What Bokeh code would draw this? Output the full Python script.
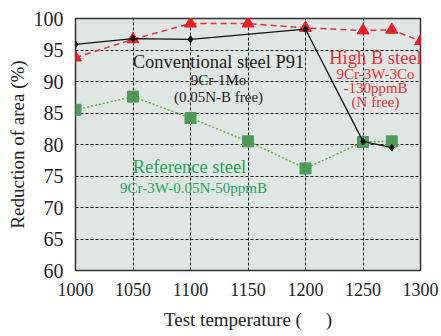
from bokeh.plotting import figure
from bokeh.models import Range1d, FixedTicker, Label
from bokeh.embed import file_html
from bokeh.resources import INLINE

p91_t = [1000, 1050, 1100, 1200, 1250, 1275]
p91_ra = [95.9, 96.8, 96.7, 98.3, 80.5, 79.5]
highb_t = [1000, 1050, 1100, 1150, 1200, 1250, 1275, 1300]
highb_ra = [93.8, 96.7, 99.2, 99.2, 98.5, 98.1, 98.2, 96.4]
ref_t = [1000, 1050, 1100, 1150, 1200, 1250, 1275]
ref_ra = [85.5, 87.6, 84.2, 80.5, 76.2, 80.4, 80.5]
x_ticks = [1000, 1050, 1100, 1150, 1200, 1250, 1300]
y_ticks = [60, 65, 70, 75, 80, 85, 90, 95, 100]

FONT = "Liberation Serif"
p = figure(width=441, height=336, output_backend="svg", toolbar_location=None,
           x_range=Range1d(1000, 1300), y_range=Range1d(60, 100),
           min_border_left=75, min_border_right=21, min_border_top=18, min_border_bottom=66)
p.background_fill_color = "#e0e6e3"
p.border_fill_color = "white"
p.outline_line_color = "#333333"
p.outline_line_width = 1.5

for ax in (p.xaxis[0], p.yaxis[0]):
    ax.axis_line_color = None
    ax.major_tick_line_color = None
    ax.minor_tick_line_color = None
    ax.major_label_text_font = FONT
    ax.major_label_text_color = "#222222"
    ax.axis_label_text_font = FONT
    ax.axis_label_text_font_size = "19px"
    ax.axis_label_text_font_style = "normal"
    ax.axis_label_text_color = "#222222"
p.xaxis.major_label_text_font_size = "18px"
p.yaxis.major_label_text_font_size = "20px"
p.xaxis.ticker = FixedTicker(ticks=x_ticks)
p.yaxis.ticker = FixedTicker(ticks=y_ticks)
p.xaxis.major_label_standoff = 6
p.yaxis.major_label_standoff = 6
p.xaxis.axis_label = "Test temperature (\u00a0\u00a0\u00a0\u00a0\u00a0)"
p.yaxis.axis_label = "Reduction of area (%)"
p.xaxis.axis_label_standoff = 10
p.yaxis.axis_label_standoff = 3

for g in (p.xgrid[0], p.ygrid[0]):
    g.grid_line_color = "#222222"
    g.grid_line_dash = "3 2"
    g.grid_line_width = 1

p.line(ref_t, ref_ra, line_color="#6aaa4a", line_dash="2 2", line_width=1.5)
p.scatter(ref_t, ref_ra, marker="square", size=11, fill_color="#4e9a58", line_color="#4e9a58")

p.line(highb_t, highb_ra, line_color="#e8303a", line_dash="6 4", line_width=1.5)
p.scatter(highb_t, highb_ra, marker="triangle", size=12, fill_color="#e8202a", line_color="#e8202a")

p.line(p91_t, p91_ra, line_color="#111111", line_width=1.3)
p.scatter(p91_t, p91_ra, marker="diamond", size=7, fill_color="#111111", line_color="#111111")

def lab(px, py, t, size, color):
    # convert picture pixels to data coordinates
    x = 1000 + (px - 75) / 1.15
    y = 100 - (py - 18) / 6.3
    p.add_layout(Label(x=x, y=y, text=t,
                       text_font=FONT, text_font_size=size, text_color=color,
                       text_align="center", text_baseline="middle"))

lab(218, 61, "Conventional steel P91", "18.5px", "#222222")
lab(218, 79, "9Cr-1Mo", "15px", "#222222")
lab(218, 96, "(0.05N-B free)", "15px", "#222222")
lab(375, 57, "High B steel", "18.5px", "#e8303a")
lab(375, 73, "9Cr-3W-3Co", "15px", "#e8303a")
lab(375, 87, "-130ppmB", "15px", "#e8303a")
lab(375, 101, "(N free)", "15px", "#e8303a")
lab(189, 166, "Reference steel", "18.5px", "#22a55a")
lab(193, 187, "9Cr-3W-0.05N-50ppmB", "15px", "#22a55a")

open("out.html", "w").write(file_html(p, INLINE))
